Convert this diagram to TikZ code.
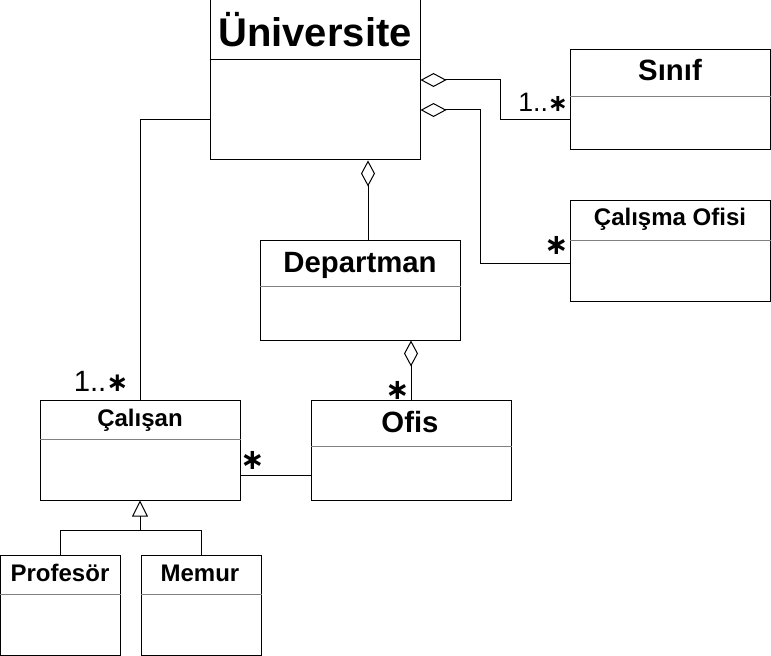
\documentclass[tikz,border=0pt]{standalone}
\usepackage{fontspec}
\setmainfont{Liberation Sans}
\newfontfamily\starfont{DejaVu Sans}
\usetikzlibrary{arrows.meta,positioning}

% centred star for multiplicities
\newcommand{\mstar}{{\starfont\bfseries\scalebox{0.9}{∗}}}

\begin{document}
\begin{tikzpicture}[
  x=0.75pt,y=-0.75pt,
  cls/.style={draw,line width=0.75pt,minimum width=150pt,minimum height=75pt,inner sep=0pt},
  small/.style={cls,minimum width=90pt},
  ttl/.style={font=\bfseries\fontsize{18}{18}\selectfont,inner sep=0pt,anchor=base},
  bigttl/.style={ttl,font=\bfseries\fontsize{22}{22}\selectfont},
  mult/.style={font=\fontsize{24}{24}\selectfont,inner sep=0pt,anchor=base west},
  sep/.style={draw=gray,line width=0.75pt},
  con/.style={line width=0.75pt},
  agg/.style={con,{Diamond[open,length=19.5pt,width=10.5pt]}-},
  inh/.style={con,-{Triangle[open,length=12pt,width=12pt]}}
]
  \useasboundingbox (0,0) rectangle (771,656);

  % classes
  \node[cls,minimum width=157.5pt,minimum height=120pt] (uni) at (315,80) {};
  \node[cls] (sinif) at (670,100) {};
  \node[cls, below=37.5pt of sinif] (calofis) {};
  \node[cls] (dept) at (360,290) {};
  \node[cls] (calisan) at (140,450) {};
  \node[cls, right=52.5pt of calisan] (ofis) {};
  \node[small] (prof) at (60,605) {};
  \node[small, right=15pt of prof] (memur) {};

  % titles
  \node[ttl,font=\bfseries\fontsize{30}{30}\selectfont] (unit) at (315,47) {Üniversite};
  \node[bigttl] (sinift) at (670,81) {Sınıf};
  \node[ttl] (calofist) at (670,225) {Çalışma Ofisi};
  \node[bigttl] (deptt) at (360,272) {Departman};
  \node[ttl] (calisant) at (140,426) {Çalışan};
  \node[bigttl] (ofist) at (410,432) {Ofis};
  \node[ttl] (proft) at (60,581) {Profesör};
  \node[ttl] (memurt) at (200,581) {Memur};

  % dividers
  \draw[con] ([yshift=-45pt]uni.north west) -- ([yshift=-45pt]uni.north east);
  \draw[sep] ([yshift=-35.25pt]sinif.north west) -- ([yshift=-35.25pt]sinif.north east);
  \draw[sep] ([yshift=-30pt]calofis.north west) -- ([yshift=-30pt]calofis.north east);
  \draw[sep] ([yshift=-35.25pt]dept.north west) -- ([yshift=-35.25pt]dept.north east);
  \draw[sep] ([yshift=-30pt]calisan.north west) -- ([yshift=-30pt]calisan.north east);
  \draw[sep] ([yshift=-35.25pt]ofis.north west) -- ([yshift=-35.25pt]ofis.north east);
  \draw[sep] ([yshift=-30pt]prof.north west) -- ([yshift=-30pt]prof.north east);
  \draw[sep] ([yshift=-30pt]memur.north west) -- ([yshift=-30pt]memur.north east);

  % aggregations
  \draw[agg] (uni.east) -- ++(80,0) |- ([yshift=-15pt]sinif.west);
  \draw[agg] ([yshift=-22.5pt]uni.east) -- ++(60,0) |- ([yshift=-9pt]calofis.west);
  \draw[agg] ([xshift=39.75pt]uni.south) -- ([xshift=39.75pt]uni.south |- dept.north);
  \draw[agg] (dept.south -| ofis.north) -- (ofis.north);

  % associations
  \draw[con] ([yshift=-30pt]uni.west) -| (calisan.north);
  \draw[con] ([yshift=-18.75pt]calisan.east) -- ([yshift=-18.75pt]ofis.west);

  % generalization
  \coordinate[below=22.5pt of calisan.south] (gen);
  \draw[inh] (gen) -- (calisan.south);
  \draw[con] (prof.north) |- (gen) -| (memur.north);

  % multiplicities
  \node[mult,font=\fontsize{20}{20}\selectfont] (m1) at (518,112) {1..\mstar};
  \node[mult] (m2) at (544,254) {\mstar};
  \node[mult] (m3) at (385,399) {\mstar};
  \node[mult,font=\fontsize{22}{22}\selectfont] (m4) at (73.5,391) {1..\mstar};
  \node[mult] (m5) at (240,469.5) {\mstar};
\end{tikzpicture}
\end{document}
